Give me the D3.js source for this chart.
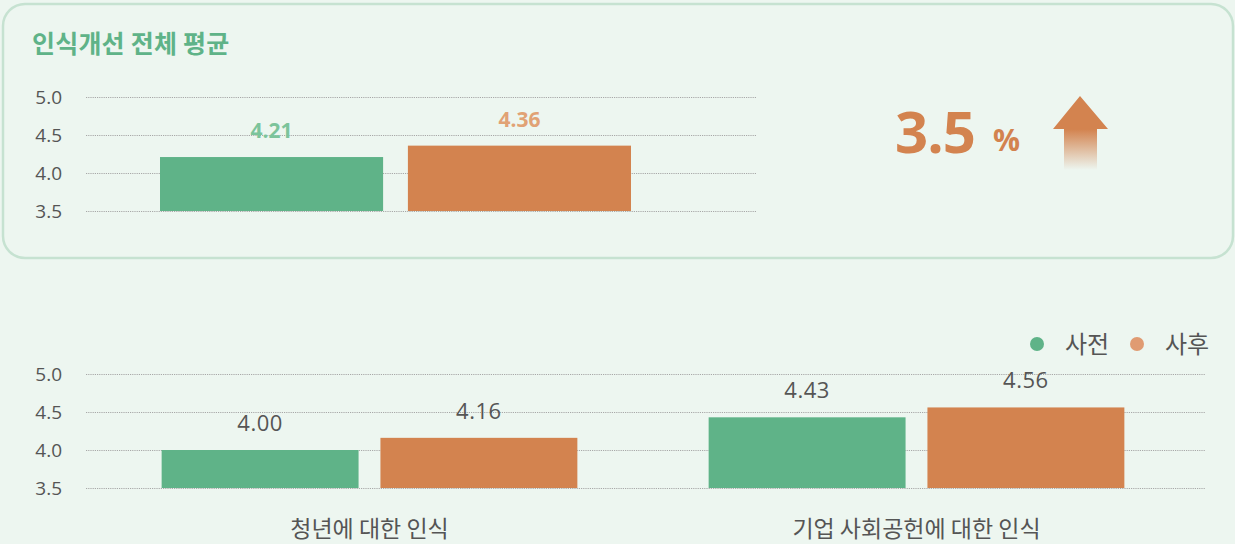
<!DOCTYPE html>
<html>
<head>
<meta charset="utf-8">
<script src="https://cdn.jsdelivr.net/npm/d3@7"></script>
<style>
  body { margin: 0; background: #edf6f0; }
  text { font-family: "Open Sans", "Noto Sans CJK KR", sans-serif; }
  .kr { font-family: "Noto Sans CJK KR", sans-serif; }
  .grid line { stroke: #a8a8a8; stroke-dasharray: 1.2,1; stroke-width: 1; }
  .grid path { display: none; }
</style>
</head>
<body>
<div id="chart"></div>
<script>
// data
var seriesNames = ["사전", "사후"];
var seriesColors = ["#5fb388", "#d3834f"];
var legendColors = ["#5fb388", "#e09b72"];
var avgTitle = "인식개선 전체 평균";
var avgValues = [4.21, 4.36];
var avgLabelColors = ["#7cc49b", "#e1a275"];
var increaseText = "3.5";
var categories = ["청년에 대한 인식", "기업 사회공헌에 대한 인식"];
var beforeValues = [4.00, 4.43];
var afterValues = [4.16, 4.56];
var yTicks = [3.5, 4.0, 4.5, 5.0];

var W = 1235, H = 544;
var svg = d3.select("#chart").append("svg")
            .attr("width", W).attr("height", H);

// top panel
svg.append("rect")
   .attr("x", 3).attr("y", 4)
   .attr("width", 1230).attr("height", 254)
   .attr("rx", 22).attr("ry", 22)
   .attr("fill", "#edf6f0")
   .attr("stroke", "#c6e2d1")
   .attr("stroke-width", 2.5);

svg.append("text")
   .attr("class", "kr")
   .attr("x", 32).attr("y", 53)
   .attr("font-size", 25).attr("font-weight", 700)
   .attr("letter-spacing", 0.2)
   .attr("fill", "#5fb388")
   .text(avgTitle);

function drawGrid(g, y, x0, x1){
    g.append("g").attr("class", "grid")
     .attr("transform", "translate(" + x0 + ",0)")
     .call(d3.axisLeft(y).tickValues(yTicks).tickSize(-(x1 - x0)).tickFormat(""));
    g.append("g")
     .selectAll("text")
     .data(yTicks)
     .enter()
     .append("text")
     .attr("x", 62)
     .attr("y", function(d){ return y(d); })
     .attr("dy", "0.36em")
     .attr("text-anchor", "end")
     .attr("font-size", 19)
     .attr("fill", "#555")
     .text(function(d){ return d.toFixed(1); });
}

// top chart
var yTop = d3.scaleLinear().domain([3.5, 5.0]).range([211, 97]);
var gTop = svg.append("g").attr("class", "topchart");
drawGrid(gTop, yTop, 86, 756);

var xTop = d3.scaleBand().domain(seriesNames).range([160, 631]).paddingInner(0.1);

gTop.append("g")
    .selectAll("rect")
    .data(avgValues)
    .enter()
    .append("rect")
    .attr("x", function(d, i){ return xTop(seriesNames[i]); })
    .attr("width", xTop.bandwidth())
    .attr("y", function(d){ return yTop(d); })
    .attr("height", function(d){ return yTop(3.5) - yTop(d); })
    .attr("fill", function(d, i){ return seriesColors[i]; });

gTop.append("g")
    .selectAll("text")
    .data(avgValues)
    .enter()
    .append("text")
    .attr("x", function(d, i){ return xTop(seriesNames[i]) + xTop.bandwidth() / 2; })
    .attr("y", function(d){ return yTop(d) - 19; })
    .attr("text-anchor", "middle")
    .attr("font-size", 21).attr("font-weight", 700)
    .attr("fill", function(d, i){ return avgLabelColors[i]; })
    .text(function(d){ return d.toFixed(2); });

// increase figure
svg.append("text")
   .attr("x", 895).attr("y", 153)
   .attr("font-size", 58).attr("font-weight", 700)
   .attr("letter-spacing", -1)
   .attr("fill", "#d3834f")
   .text(increaseText);
svg.append("text")
   .attr("x", 993).attr("y", 151)
   .attr("font-size", 30).attr("font-weight", 700)
   .attr("fill", "#d3834f")
   .text("%");

var defs = svg.append("defs");
var grad = defs.append("linearGradient")
               .attr("id", "arrowGrad")
               .attr("x1", 0).attr("y1", 0).attr("x2", 0).attr("y2", 1);
grad.append("stop").attr("offset", "0%").attr("stop-color", "#d3834f").attr("stop-opacity", 1);
grad.append("stop").attr("offset", "45%").attr("stop-color", "#d3834f").attr("stop-opacity", 1);
grad.append("stop").attr("offset", "100%").attr("stop-color", "#d3834f").attr("stop-opacity", 0);

svg.append("path")
   .attr("d", "M1080,96 L1108,129 L1097,129 L1097,170 L1064,170 L1064,129 L1053,129 Z")
   .attr("fill", "url(#arrowGrad)");

// bottom chart
var yBot = d3.scaleLinear().domain([3.5, 5.0]).range([488, 374]);
var gBot = svg.append("g").attr("class", "bottomchart");
drawGrid(gBot, yBot, 86, 1205);

var x0 = d3.scaleBand().domain(categories).range([96, 1190]).paddingInner(0.24).paddingOuter(0.12);
var x1 = d3.scaleBand().domain(seriesNames).range([0, x0.bandwidth()]).paddingInner(0.1);

var rows = categories.map(function(c, i){
    return { cat: c, vals: [beforeValues[i], afterValues[i]] };
});

var groups = gBot.selectAll(".grp")
                 .data(rows)
                 .enter()
                 .append("g")
                 .attr("class", "grp")
                 .attr("transform", function(d){ return "translate(" + x0(d.cat) + ",0)"; });

groups.selectAll("rect")
      .data(function(d){ return d.vals; })
      .enter()
      .append("rect")
      .attr("x", function(d, i){ return x1(seriesNames[i]); })
      .attr("width", x1.bandwidth())
      .attr("y", function(d){ return yBot(d); })
      .attr("height", function(d){ return yBot(3.5) - yBot(d); })
      .attr("fill", function(d, i){ return seriesColors[i]; });

groups.selectAll(".val")
      .data(function(d){ return d.vals; })
      .enter()
      .append("text")
      .attr("class", "val")
      .attr("x", function(d, i){ return x1(seriesNames[i]) + x1.bandwidth() / 2; })
      .attr("y", function(d){ return yBot(d) - 19; })
      .attr("text-anchor", "middle")
      .attr("font-size", 22)
      .attr("letter-spacing", 0.5)
      .attr("fill", "#555")
      .text(function(d){ return d.toFixed(2); });

groups.append("text")
      .attr("class", "kr")
      .attr("x", x0.bandwidth() / 2)
      .attr("y", 537)
      .attr("text-anchor", "middle")
      .attr("font-size", 23)
      .attr("fill", "#555")
      .text(function(d){ return d.cat; });

// legend
var legend = svg.append("g").attr("class", "legend");
var legX = [1037, 1137];
seriesNames.forEach(function(name, i){
    legend.append("circle")
          .attr("cx", legX[i]).attr("cy", 344).attr("r", 7)
          .attr("fill", legendColors[i]);
    legend.append("text")
          .attr("class", "kr")
          .attr("x", legX[i] + 28).attr("y", 353)
          .attr("font-size", 24)
          .attr("fill", "#555")
          .text(name);
});
</script>
</body>
</html>
